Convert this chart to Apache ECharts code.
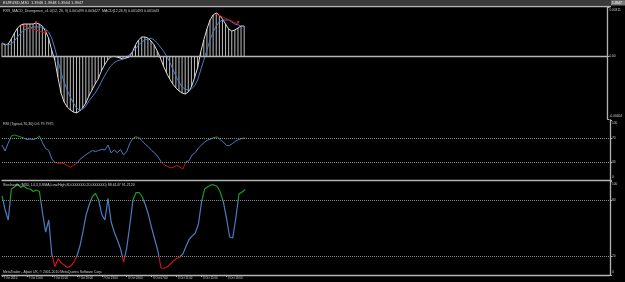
<!DOCTYPE html>
<html><head><meta charset="utf-8">
<script src="https://cdn.jsdelivr.net/npm/echarts@6/dist/echarts.min.js"></script>
<style>html,body{margin:0;padding:0;background:#000;}#c{width:625px;height:282px;}</style>
</head><body><div id="c"></div>
<script>
// ---- data ----
const tickLabels = ['7 Oct 2010','7 Oct 11:00','7 Oct 15:00','7 Oct 19:00','7 Oct 23:00','8 Oct 03:00','8 Oct 07:00','8 Oct 11:00','8 Oct 15:00','8 Oct 19:00'];
const barsPerLabel = 8;
const totalSlots = 196;

const macdMain = [0.00083,0.00071,0.00077,0.00109,0.00147,0.00179,0.00199,0.00205,0.00205,0.00205,
0.00205,0.00212,0.00205,0.00192,0.00160,0.00115,0.00038,-0.00026,-0.00135,-0.00237,
-0.00295,-0.00327,-0.00346,-0.00359,-0.00365,-0.00353,-0.00333,-0.00301,-0.00256,-0.00218,
-0.00179,-0.00147,-0.00096,-0.00058,-0.00026,-0.00006,-0.00002,-0.00006,-0.00013,-0.00019,
-0.00013,-0.00006,0.00026,0.00071,0.00103,0.00122,0.00122,0.00115,0.00096,0.00071,
0.00032,-0.00013,-0.00064,-0.00109,-0.00147,-0.00179,-0.00205,-0.00224,-0.00237,-0.00244,
-0.00231,-0.00199,-0.00141,-0.00077,0.00026,0.00103,0.00173,0.00231,0.00263,0.00276,
0.00263,0.00237,0.00205,0.00173,0.00160,0.00167,0.00179,0.00192,0.00192];

const macdSignal = [0.00083,0.00077,0.00071,0.00077,0.00096,0.00122,0.00147,0.00167,0.00173,0.00179,
0.00186,0.00186,0.00186,0.00186,0.00173,0.00154,0.00115,0.00051,-0.00026,-0.00103,
-0.00167,-0.00218,-0.00263,-0.00301,-0.00333,-0.00346,-0.00340,-0.00321,-0.00288,-0.00263,
-0.00237,-0.00205,-0.00167,-0.00128,-0.00096,-0.00064,-0.00045,-0.00032,-0.00026,-0.00019,
-0.00006,0.00006,0.00026,0.00045,0.00071,0.00090,0.00103,0.00109,0.00115,0.00103,
0.00083,0.00058,0.00032,0.00000,-0.00038,-0.00083,-0.00128,-0.00167,-0.00199,-0.00212,
-0.00218,-0.00212,-0.00192,-0.00154,-0.00090,-0.00026,0.00038,0.00103,0.00154,0.00192,
0.00218,0.00231,0.00231,0.00231,0.00218,0.00205,0.00199,0.00192,0.00186];

const divLineA = [[6,0.00199],[14,0.00147]];
const divLineB = [[69,0.00269],[76,0.00205]];
const divMarkers = [[11,0.00212],[14,0.00154],[76,0.00212]];

const rsi = [58.5,48.6,61.8,73.3,75.0,73.3,71.7,70.0,67.5,68.4,
67.5,69.2,73.3,61.8,52.7,49.4,35.4,29.7,28.3,28.8,
27.2,24.7,21.7,25.5,28.0,34.9,38.7,42.8,46.1,49.4,
47.8,49.4,51.4,50.2,58.5,45.3,50.2,45.8,51.1,42.0,
47.8,61.3,69.5,72.2,70.0,65.1,59.3,55.2,49.4,45.3,
39.2,31.3,25.9,23.4,20.6,22.2,24.7,22.2,18.9,30.5,
32.9,42.0,46.1,53.5,58.5,63.4,66.7,68.4,70.8,71.7,
67.5,63.4,57.7,57.7,61.3,65.1,67.5,69.5,70.0];

const stoch = [84.6,69.6,58.9,92.1,94.2,97.4,93.7,95.3,92.6,92.1,
89.4,91.0,89.4,66.4,46.0,58.9,21.4,9.1,17.7,12.8,
10.7,8.0,9.6,13.4,19.8,31.0,47.1,64.8,75.5,84.0,
87.3,80.3,64.8,58.9,82.0,56.7,46.0,37.5,28.4,13.9,
28.9,53.5,80.3,88.3,88.3,83.5,74.9,64.2,50.3,38.0,
25.7,7.5,7.2,8.6,11.8,15.0,17.7,19.3,22.5,30.5,
38.0,41.8,45.0,54.6,78.2,92.1,94.5,96.4,96.4,94.8,
88.9,78.2,61.0,40.7,39.6,61.0,86.7,88.9,91.5];

const macdRange = [-0.00404, 0.00311];
const rsiLevels = [30, 70];
const stochLevels = [20, 80];

const titleText = 'EURUSD,M30  1.3946 1.3948 1.3944 1.3947';
const priceTag = '1.3947';
const macdText = 'FXR_MACD_Divergence_v1.0(12, 26, 9) 0.001499 0.003427  MACD(12,26,9) 0.001493 0.001043';
const rsiText = 'RSI (Typical,70,30) 0.6 79.7975';
const stochText = 'Stochastic (M30, 14,3,3,SMA,Low/High,80.0000000,20.0000000) 88.6147 91.2120';
const footerText = 'MetaTrader - Alpari UK, \u00a9 2001-2010 MetaQuotes Software Corp.';

// ---- chart ----
const cats = [];
for (let i = 0; i < totalSlots; i++) cats.push(String(i));
const FONT = 'Liberation Sans';
const AX = '#b4b4b4';
const LBL = '#d0d0d0';
const BLUE = '#4a7cc0', GREEN = '#1f9a1f', RED = '#c41414';
const showIdx = (idx) => idx % barsPerLabel === 0 && idx / barsPerLabel < tickLabels.length;

const L = 2, W = 608;
const grids = [
  {left: L, width: W, top: 7.5, height: 111.5},
  {left: L, width: W, top: 119.8, height: 60.7},
  {left: L, width: W, top: 181.6, height: 93.4}
];
function xAx(g, labels) {
  return {
    type: 'category', gridIndex: g, data: cats, boundaryGap: false,
    axisLine: {show: true, lineStyle: {color: AX, width: 1.3}},
    axisTick: labels ? {show: true, interval: showIdx, length: 2, lineStyle: {color: AX}} : {show: false},
    axisLabel: labels ? {show: true, interval: showIdx, align: 'left', margin: 1.5, padding: [0,0,0,1.5],
      fontSize: 2.8, fontFamily: FONT, color: LBL,
      formatter: (v, idx) => tickLabels[Math.round(idx / barsPerLabel)]} : {show: false},
    splitLine: {show: false}
  };
}
function rich(sz) {
  return {
    t: {padding: [6,0,0,0], fontSize: sz, fontFamily: FONT, color: LBL},
    b: {padding: [0,0,6,0], fontSize: sz, fontFamily: FONT, color: LBL}
  };
}
function yAx(g, min, max, vals, fmt) {
  return {
    type: 'value', gridIndex: g, position: 'right', min: min, max: max,
    axisLine: {show: true, lineStyle: {color: AX, width: 1.3}},
    axisTick: {show: true, customValues: vals, length: 2, lineStyle: {color: AX}},
    axisLabel: {show: true, customValues: vals, margin: 2, fontSize: 3.2, fontFamily: FONT, color: LBL,
      formatter: (v) => v === max ? '{t|' + fmt(v) + '}' : (v === min ? '{b|' + fmt(v) + '}' : fmt(v)),
      rich: rich(3.2)},
    splitLine: {show: false}
  };
}
function levelLines(levels, solid) {
  return {
    silent: true, symbol: 'none', label: {show: false}, animation: false,
    lineStyle: {color: solid ? AX : '#8a8a8a', type: solid ? 'solid' : 'dotted', width: 1},
    data: levels.map(v => ({yAxis: v}))
  };
}
const pieces = (lo, hi) => [
  {lt: lo, color: RED}, {gte: lo, lte: hi, color: BLUE}, {gt: hi, color: GREEN}
];
function txt(x, y, s, size, fill) {
  return {type: 'text', x: x, y: y, z: 100, silent: true,
    style: {text: s, fontSize: size, fontFamily: FONT, fill: fill || LBL, verticalAlign: 'middle', align: 'left'}};
}

const chart = echarts.init(document.getElementById('c'), null, {renderer: 'canvas'});
chart.setOption({
  backgroundColor: '#000',
  animation: false,
  grid: grids,
  xAxis: [xAx(0, false), xAx(1, false), xAx(2, true)],
  yAxis: [
    yAx(0, macdRange[0], macdRange[1], [macdRange[0], 0, macdRange[1]], v => v === 0 ? '0.00' : v.toFixed(5)),
    yAx(1, 0, 100, [0, rsiLevels[0], rsiLevels[1], 100], v => String(v)),
    yAx(2, 0, 100, [0, stochLevels[0], stochLevels[1], 100], v => String(v))
  ],
  visualMap: [
    {type: 'piecewise', show: false, seriesIndex: 6, dimension: 1, pieces: pieces(rsiLevels[0], rsiLevels[1])},
    {type: 'piecewise', show: false, seriesIndex: 7, dimension: 1, pieces: pieces(stochLevels[0], stochLevels[1])}
  ],
  series: [
    {type: 'bar', xAxisIndex: 0, yAxisIndex: 0, data: macdMain, barWidth: 1,
      itemStyle: {color: '#bdbdbd'}, markLine: levelLines([0], true), z: 2},
    {type: 'line', xAxisIndex: 0, yAxisIndex: 0, data: macdMain, symbol: 'none',
      lineStyle: {color: '#dcdcdc', width: 1}, z: 3},
    {type: 'line', xAxisIndex: 0, yAxisIndex: 0, data: macdSignal, symbol: 'none',
      lineStyle: {color: BLUE, width: 1}, z: 4},
    {type: 'line', xAxisIndex: 0, yAxisIndex: 0, data: divLineA, symbol: 'none',
      lineStyle: {color: RED, width: 1}, z: 5},
    {type: 'line', xAxisIndex: 0, yAxisIndex: 0, data: divLineB, symbol: 'none',
      lineStyle: {color: RED, width: 1}, z: 5},
    {type: 'scatter', xAxisIndex: 0, yAxisIndex: 0, data: divMarkers, symbol: 'triangle',
      symbolRotate: 180, symbolSize: [3, 4], itemStyle: {color: '#e02020'}, z: 6},
    {type: 'line', xAxisIndex: 1, yAxisIndex: 1, data: rsi, symbol: 'none',
      lineStyle: {width: 1}, markLine: levelLines(rsiLevels, false)},
    {type: 'line', xAxisIndex: 2, yAxisIndex: 2, data: stoch, symbol: 'none',
      lineStyle: {width: 1.2}, markLine: levelLines(stochLevels, false)}
  ],
  graphic: [
    {type: 'rect', z: 90, silent: true, shape: {x: 0, y: 0, width: 625, height: 5.5}, style: {fill: '#3a3a3a'}},
    {type: 'line', z: 91, silent: true, shape: {x1: 0, y1: 6.5, x2: 611, y2: 6.5}, style: {stroke: AX, lineWidth: 1.3}},
    {type: 'rect', z: 92, silent: true, shape: {x: 611, y: 0.3, width: 14, height: 5}, style: {fill: '#7a7a7a'}},
    txt(612, 2.9, priceTag, 3.2, '#ffffff'),
    txt(3, 2.8, titleText, 4, '#e8e8e8'),
    txt(3, 11.3, macdText, 3.6),
    txt(3, 124, rsiText, 3.6),
    txt(3, 185.3, stochText, 3.6),
    txt(3, 272, footerText, 3.4)
  ]
});
</script></body></html>
